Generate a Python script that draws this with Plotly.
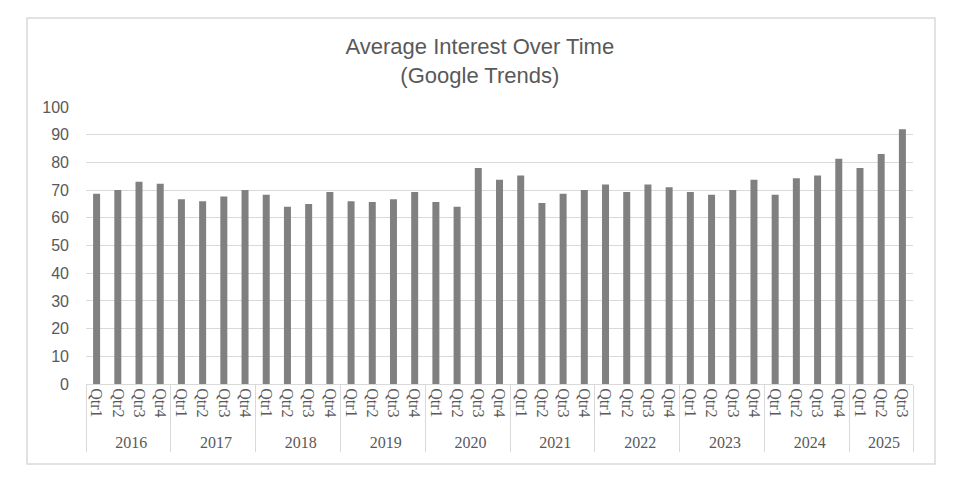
import plotly.graph_objects as go

# quarterly averages
years = ['2016', '2017', '2018', '2019', '2020', '2021', '2022', '2023', '2024', '2025']
quarters = ['Qtr1', 'Qtr2', 'Qtr3', 'Qtr4']
interest = [
    68.7, 70.0, 73.0, 72.3,   # 2016
    66.7, 66.0, 67.7, 70.0,   # 2017
    68.3, 64.0, 65.0, 69.3,   # 2018
    66.0, 65.7, 66.7, 69.3,   # 2019
    65.7, 64.0, 78.0, 73.7,   # 2020
    75.3, 65.3, 68.7, 70.0,   # 2021
    72.0, 69.3, 72.0, 71.0,   # 2022
    69.3, 68.3, 70.0, 73.7,   # 2023
    68.3, 74.3, 75.3, 81.3,   # 2024
    78.0, 83.0, 92.0,         # 2025
]

year_level, quarter_level = [], []
for y in years:
    for q in quarters:
        if len(year_level) < len(interest):
            year_level.append(y)
            quarter_level.append(q)

fig = go.Figure()
fig.add_trace(go.Bar(x=[year_level, quarter_level], y=interest,
                     marker=dict(color='#808080', line=dict(width=0))))

# the page body adds an 8px margin, so the figure is 8px smaller than the window
fig.update_layout(
    width=961, height=471,
    margin=dict(l=78, r=56, t=99, b=95),
    paper_bgcolor='white', plot_bgcolor='white',
    bargap=0.67,
    showlegend=False,
    title=dict(text='Average Interest Over Time<br>(Google Trends)',
               x=0.491, xanchor='center', y=0.902, yanchor='top',
               font=dict(family='Liberation Sans, Arial', size=22, color='#595959')),
    font=dict(family='Liberation Sans, Arial', color='#595959'),
)
fig.update_yaxes(range=[0, 100], dtick=10, showgrid=True, gridcolor='#d9d9d9',
                 gridwidth=1, zeroline=False, showline=False, automargin=False,
                 ticklabelstandoff=16,
                 tickfont=dict(family='Liberation Sans, Arial', size=16, color='#595959'))
fig.update_xaxes(type='multicategory', tickangle=90, showline=True, linecolor='#d9d9d9',
                 automargin=False, ticks='outside', ticklen=7, tickcolor='rgba(0,0,0,0)',
                 showdividers=True, dividercolor='#d9d9d9', dividerwidth=1,
                 tickfont=dict(family='Liberation Serif, Times New Roman', size=16, color='#595959'))

# outer chart border
fig.add_shape(type='rect', xref='paper', yref='paper',
              x0=-0.0713, x1=1.0266, y0=-0.289, y1=1.321,
              line=dict(color='#d9d9d9', width=1.5), fillcolor='rgba(0,0,0,0)')

fig.write_html('out.html')
